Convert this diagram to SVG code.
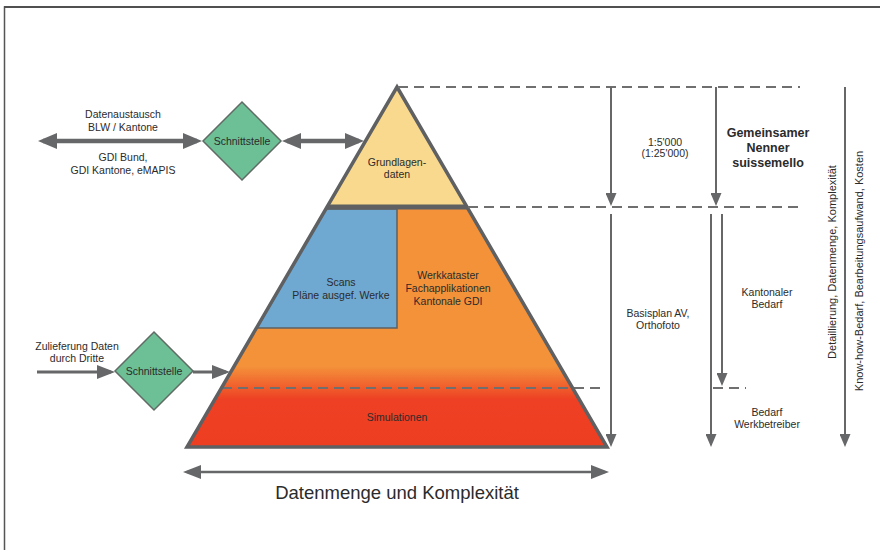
<svg xmlns="http://www.w3.org/2000/svg" width="880" height="550" viewBox="0 0 880 550">
<style>
text{font-family:"Liberation Sans",Arial,sans-serif;fill:#2b2b2b;font-size:10.5px;text-anchor:middle}
.bold{font-weight:bold;font-size:12.5px}
.big{font-size:18.5px}
.v{font-size:11px}
.dash{stroke:#6f6f6f;stroke-width:2;stroke-dasharray:10 6;fill:none}
.arr{stroke:#666769;stroke-width:2;fill:none}
.dia{fill:#6dbf95;stroke:#5f6b64;stroke-width:1.5}
</style>
<defs>
<marker id="ahS" markerUnits="userSpaceOnUse" markerWidth="13" markerHeight="11" refX="11" refY="5.5" orient="auto-start-reverse"><path d="M0,0 L13,5.5 L0,11 z" fill="#666769"/></marker>
<marker id="ahB" markerUnits="userSpaceOnUse" markerWidth="19" markerHeight="16" refX="14" refY="8" orient="auto-start-reverse"><path d="M0,0 L19,8 L0,16 z" fill="#666769"/></marker>
<marker id="ahM" markerUnits="userSpaceOnUse" markerWidth="18" markerHeight="14" refX="14" refY="7" orient="auto-start-reverse"><path d="M0,0 L18,7 L0,14 z" fill="#666769"/></marker>
<linearGradient id="gr" gradientUnits="userSpaceOnUse" x1="0" y1="209" x2="0" y2="447">
<stop offset="0.66" stop-color="#f4923a"/>
<stop offset="0.8" stop-color="#ee4024"/>
<stop offset="1" stop-color="#ee3e22"/>
</linearGradient>
</defs>
<rect width="880" height="550" fill="#fff"/>
<path d="M4.5,550 V7 H880" fill="none" stroke="#555" stroke-width="1.5"/>
<line x1="4" y1="7" x2="880" y2="7" stroke="#505050" stroke-width="2"/>

<g id="pyramid">
<polygon points="327,207 467,207 607,447 187,447" fill="url(#gr)"/>
<polygon points="397,87 327,207 467,207" fill="#f9d98e"/>
<polygon points="326,209 397,209 397,328 257,328" fill="#6fa8d1" stroke="#5f6062" stroke-width="1.5"/>
<line class="dash" x1="222" y1="388" x2="606" y2="388"/>
<line x1="327" y1="207" x2="467" y2="207" stroke="#5f6062" stroke-width="5"/>
<polygon points="397,87 607,447 187,447" fill="none" stroke="#5f6062" stroke-width="3.5" stroke-linejoin="miter"/>
</g>
<g id="grundlagen"><text x="397" y="166">Grundlagen-</text><text x="397" y="178">daten</text></g>
<g id="scans"><text x="341" y="286">Scans</text><text x="341" y="299">Pläne ausgef. Werke</text></g>
<g id="werkkataster"><text x="448" y="279">Werkkataster</text><text x="448" y="292">Fachapplikationen</text><text x="448" y="305">Kantonale GDI</text></g>
<g id="simulationen"><text x="397" y="421">Simulationen</text></g>

<g id="schnittstelle1"><polygon class="dia" points="242,102 281,141 242,180 203,141"/><text x="242" y="145">Schnittstelle</text></g>
<g id="schnittstelle2"><polygon class="dia" points="154,332 193,371 154,410 115,371"/><text x="154" y="375">Schnittstelle</text></g>

<g id="labels">
<text x="123" y="118">Datenaustausch</text><text x="123" y="131">BLW / Kantone</text>
<text x="123" y="161">GDI Bund,</text><text x="123" y="174">GDI Kantone, eMAPIS</text>
<text x="77" y="350">Zulieferung Daten</text><text x="77" y="362">durch Dritte</text>
<text x="665" y="146">1:5'000</text><text x="665" y="157">(1:25'000)</text>
<text class="bold" x="768" y="137">Gemeinsamer</text><text class="bold" x="768" y="152">Nenner</text><text class="bold" x="768" y="167">suissemello</text>
<text x="658" y="317">Basisplan AV,</text><text x="658" y="329">Orthofoto</text>
<text x="767" y="296">Kantonaler</text><text x="767" y="308">Bedarf</text>
<text x="767" y="416">Bedarf</text><text x="767" y="428">Werkbetreiber</text>
<text class="v" transform="translate(836,262) rotate(-90)">Detaillierung, Datenmenge, Komplexität</text>
<text class="v" transform="translate(863,271) rotate(-90)">Know-how-Bedarf, Bearbeitungsaufwand, Kosten</text>
<text class="big" x="397" y="499">Datenmenge und Komplexität</text>
</g>

<g id="connectors">
<line class="dash" x1="398" y1="87" x2="800" y2="87"/>
<line class="dash" x1="468" y1="207" x2="800" y2="207"/>
<line class="dash" x1="713" y1="388" x2="746" y2="388"/>
<line x1="43" y1="141" x2="197" y2="141" stroke="#666769" stroke-width="4.5" marker-start="url(#ahB)" marker-end="url(#ahB)"/>
<line x1="287" y1="141" x2="359" y2="141" stroke="#666769" stroke-width="4.5" marker-start="url(#ahB)" marker-end="url(#ahB)"/>
<line x1="37" y1="372" x2="111" y2="372" stroke="#666769" stroke-width="3.2" marker-end="url(#ahM)"/>
<line x1="193" y1="372" x2="226" y2="372" stroke="#666769" stroke-width="3.2" marker-end="url(#ahM)"/>
<line x1="187" y1="472" x2="605" y2="472" stroke="#666769" stroke-width="2.5" marker-start="url(#ahM)" marker-end="url(#ahM)"/>
<line class="arr" x1="611" y1="87" x2="611" y2="204" marker-end="url(#ahS)"/>
<line class="arr" x1="716" y1="87" x2="716" y2="204" marker-end="url(#ahS)"/>
<line class="arr" x1="611" y1="214" x2="611" y2="445" marker-end="url(#ahS)"/>
<line class="arr" x1="711" y1="214" x2="711" y2="445" marker-end="url(#ahS)"/>
<line class="arr" x1="722" y1="214" x2="722" y2="384" marker-end="url(#ahS)"/>
<line class="arr" x1="845" y1="87" x2="845" y2="445" stroke-width="2.5" marker-end="url(#ahS)"/>
</g>
</svg>
